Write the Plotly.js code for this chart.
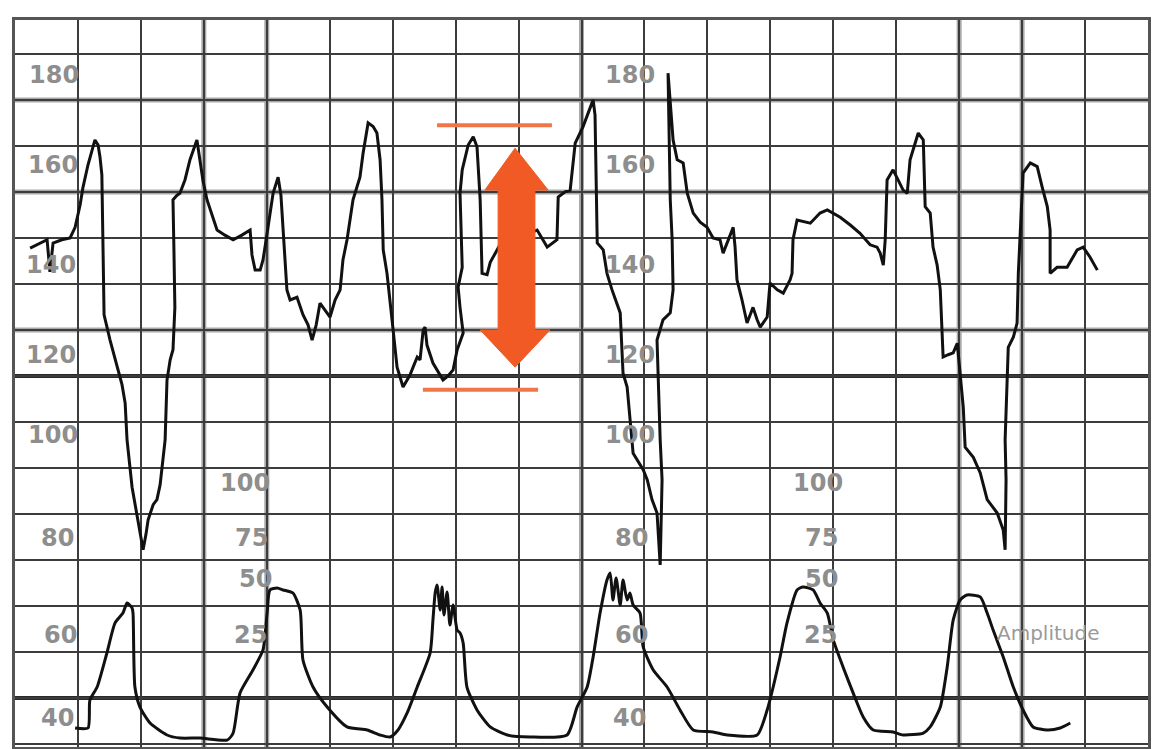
<!DOCTYPE html>
<html>
<head>
<meta charset="utf-8">
<script src="https://cdn.plot.ly/plotly-3.0.1.min.js"></script>
<style>html,body{margin:0;padding:0;background:#fff;}#chart{width:1163px;height:749px;}</style>
</head>
<body>
<div id="chart"></div>
<script>
// ---- Fetal heart rate trace (time in seconds, bpm) ----
const fhrTime = [4.8,7.9,10.2,11.1,12.1,14.9,17.5,19.1,20.7,21.6,23.2,24.5,25.4,26.4,27.0,27.6,28.0,28.3,30.2,32.4,34.0,35.0,35.6,37.2,38.8,39.7,40.7,41.6,42.3,43.9,45.1,46.1,47.0,47.7,48.3,49.3,50.2,50.8,50.5,50.2,51.5,52.4,54.0,55.6,57.8,58.8,59.7,61.0,62.6,64.2,66.7,69.3,72.1,74.7,75.3,76.3,77.9,78.8,79.8,81.0,82.0,83.6,84.5,85.2,85.8,86.4,87.4,89.6,91.5,93.1,94.4,95.7,96.9,98.5,100.1,101.7,103.3,104.2,105.5,107.4,109.6,110.6,112.2,113.8,115.0,116.0,116.6,117.0,118.2,119.8,121.4,123.3,125.5,126.5,127.8,128.7,129.7,130.3,130.9,132.8,134.4,136.0,137.6,139.2,140.5,142.4,141.4,140.8,142.1,141.4,142.1,144.0,145.6,146.8,147.8,148.4,150.0,151.0,154.1,165.9,169.1,172.2,172.6,174.8,176.4,177.3,178.0,180.5,182.7,183.7,184.3,185.0,186.9,188.1,189.7,192.3,193.2,194.5,196.4,199.6,200.9,202.4,204.0,205.0,205.6,205.0,204.0,205.9,208.2,209.1,208.8,208.2,207.5,208.5,209.1,210.4,212.3,213.6,215.5,217.7,219.9,221.8,224.0,225.0,228.2,228.8,229.4,231.0,232.6,233.6,234.5,235.8,236.8,239.0,239.9,242.2,244.1,246.3,246.9,247.2,248.5,252.7,255.8,258.1,262.2,265.4,268.5,271.7,273.9,274.9,275.9,276.5,277.1,279.0,280.6,282.2,283.5,284.4,287.0,288.6,289.2,290.8,291.7,293.0,294.0,294.9,296.5,298.1,299.4,300.3,301.3,301.9,304.5,306.7,308.9,312.1,314.0,314.6,314.9,314.6,315.3,315.6,317.2,318.4,318.8,319.4,320.3,322.6,324.8,326.4,328.0,328.9,328.9,331.1,334.3,337.5,339.4,341.6,343.9];
const fhrBpm = [147.8,148.9,149.6,142.6,148.9,149.6,150.0,152.3,157.2,161.0,165.9,169.1,171.3,170.2,167.6,163.7,147.4,133.3,127.8,121.9,118.1,114.1,106.1,95.8,89.8,85.9,82.2,85.5,88.7,92.0,93.1,96.3,101.8,106.1,119.1,123.5,125.7,134.9,147.4,158.3,159.3,159.7,162.6,167.0,171.3,167.0,162.6,158.3,155.0,151.7,150.6,149.6,150.6,151.7,146.3,143.0,143.0,145.2,149.6,155.0,159.7,163.2,159.3,151.7,145.2,138.7,136.5,137.1,133.3,131.1,127.8,131.1,135.8,134.4,132.8,136.5,138.7,145.2,149.6,158.3,163.2,168.4,175.0,174.2,172.8,167.0,158.3,147.4,142.3,132.2,121.9,117.6,120.2,121.9,124.1,123.5,130.0,130.6,126.7,122.8,120.8,119.1,120.0,121.3,125.7,129.3,134.9,139.3,143.6,159.7,164.8,170.2,172.0,169.8,158.3,142.3,142.0,144.7,148.5,151.7,148.0,149.6,158.9,160.0,160.4,165.5,170.6,174.2,178.5,180.0,176.7,148.9,147.4,142.3,138.7,133.7,120.6,117.6,103.2,99.6,97.4,93.1,90.2,78.9,97.4,106.1,127.8,132.2,133.7,138.7,149.6,158.3,185.8,177.8,171.3,167.0,166.3,159.7,155.4,153.4,152.3,150.0,149.6,146.7,152.3,148.0,140.9,136.5,131.5,133.3,134.9,132.2,130.6,132.8,140.2,138.7,138.0,140.9,142.3,149.6,153.9,153.2,155.4,156.1,154.5,152.8,151.0,148.5,148.0,146.7,144.1,149.6,162.6,164.8,162.6,160.4,159.7,167.0,172.8,171.3,156.8,155.4,148.0,144.1,138.7,124.1,124.6,125.0,127.1,120.6,113.2,104.5,102.3,98.9,93.1,90.2,86.5,82.2,97.4,106.1,120.6,126.2,128.4,131.5,142.3,151.7,164.1,166.3,165.5,161.0,156.8,151.7,142.3,143.6,143.6,147.4,148.0,145.8,143.0];

// ---- Uterine contraction trace (time in seconds, mmHg) ----
const ucTime = [19.1,23.2,23.8,26.1,29.2,31.8,34.3,35.6,37.2,37.5,38.1,39.7,42.9,48.3,52.4,58.8,67.4,69.3,71.5,75.6,78.8,80.1,81.0,83.3,85.2,88.3,90.6,91.5,94.7,99.2,105.5,111.9,116.0,119.2,121.7,124.6,127.8,131.9,132.8,133.5,134.1,135.1,135.7,136.3,137.3,138.2,139.2,140.5,141.4,142.4,143.6,146.8,151.0,156.4,163.7,175.4,178.6,181.8,183.7,185.9,188.1,189.1,190.0,191.0,192.3,193.2,194.5,195.4,196.4,198.6,199.6,202.8,207.2,211.3,215.5,221.8,226.3,235.8,239.0,240.9,243.1,245.3,248.5,250.4,253.6,255.8,258.1,260.0,263.1,266.3,269.5,272.7,279.0,282.2,288.6,290.8,294.0,296.2,298.1,300.3,302.5,306.7,308.9,310.8,314.0,317.2,320.3,323.5,328.0,332.1,335.3];
const ucMmHg = [8.7,8.7,21.5,27.5,43.1,56.9,61.4,66.0,63.7,61.4,27.5,18.3,11.0,5.5,4.1,4.1,3.2,6.4,24.8,35.3,44.5,61.4,72.0,72.9,72.0,70.6,62.8,39.9,27.5,18.3,9.2,7.8,5.5,4.6,7.8,15.6,27.5,43.1,58.2,70.6,74.3,62.8,73.4,60.5,71.1,55.9,65.1,53.6,52.3,47.7,27.5,17.0,9.2,5.5,4.6,5.5,18.3,27.5,41.3,61.4,76.6,79.8,67.4,77.5,65.1,76.6,67.4,70.6,65.1,61.4,45.9,35.3,27.5,17.0,7.8,6.9,5.5,5.5,17.0,27.5,41.3,56.9,72.0,73.4,72.0,66.0,61.4,49.1,36.7,24.8,13.8,7.8,6.9,5.5,6.4,9.2,18.3,36.7,58.2,67.4,69.7,68.8,61.4,53.6,41.3,27.5,17.0,9.2,7.8,8.7,11.0];

// ---- Printed scale labels ----
const fhrScaleText = ['180','160','140','120','100','80','60','40'];
const ucScaleText = ['100','75','50','25'];
const amplitudeText = 'Amplitude';

// label placement (layout only)
const fhrLabelY = [185.4,165.9,144.1,124.6,107.2,84.8,63.7,45.6];
const fhrLabelX1 = [12.4,12.1,11.5,11.5,12.1,13.5,14.3,13.5];
const fhrLabelX2 = [195.4,195.4,195.4,195.4,195.4,196.0,196.0,195.4];
const ucLabelY = [96.7,84.8,75.9,63.7];
const ucLabelX1 = [73.1,75.3,76.3,74.7];
const ucLabelX2 = [255.1,256.4,256.4,255.8];

const labelFont = {family:'DejaVu Sans, Arial, sans-serif', size:24, color:'#8e8e8e', weight:700};
const annotations = [];
fhrScaleText.forEach((t,i)=>{
  annotations.push({x:fhrLabelX1[i], y:fhrLabelY[i], xref:'x', yref:'y', text:t, showarrow:false, font:labelFont, xanchor:'center', yanchor:'middle'});
  annotations.push({x:fhrLabelX2[i], y:fhrLabelY[i], xref:'x', yref:'y', text:t, showarrow:false, font:labelFont, xanchor:'center', yanchor:'middle'});
});
ucScaleText.forEach((t,i)=>{
  annotations.push({x:ucLabelX1[i], y:ucLabelY[i], xref:'x', yref:'y', text:t, showarrow:false, font:labelFont, xanchor:'center', yanchor:'middle'});
  annotations.push({x:ucLabelX2[i], y:ucLabelY[i], xref:'x', yref:'y', text:t, showarrow:false, font:labelFont, xanchor:'center', yanchor:'middle'});
});
annotations.push({x:328.5, y:64.1, xref:'x', yref:'y', text:amplitudeText, showarrow:false,
  font:{family:'DejaVu Sans, Arial, sans-serif', size:20, color:'#9a9a9a'}, xanchor:'center', yanchor:'middle'});

// emphasised grid lines
const thickBlackBpm = [120, 50];
const thickGreyBpm = [180, 160, 130];
const thickGreyTime = [60, 80, 180, 300, 320];

const shapes = [];
thickGreyBpm.forEach(v=>shapes.push({type:'line', xref:'paper', yref:'y', x0:0, x1:1, y0:v, y1:v, layer:'between', line:{color:'#a8a8a8', width:5}}));
thickGreyTime.forEach(v=>shapes.push({type:'line', xref:'x', yref:'paper', x0:v, x1:v, y0:0, y1:1, layer:'between', line:{color:'#a8a8a8', width:5}}));
thickBlackBpm.forEach(v=>shapes.push({type:'line', xref:'paper', yref:'y', x0:0, x1:1, y0:v, y1:v, layer:'between', line:{color:'#2a2a2a', width:4}}));

// variability marker: two reference bars + double arrow
const orange = '#f15a24';
const markTop = {x0:134.1, x1:170.6, y:174.5};
const markBottom = {x0:129.6, x1:166.2, y:117.0};
shapes.push({type:'line', xref:'x', yref:'y', x0:markTop.x0, x1:markTop.x1, y0:markTop.y, y1:markTop.y, layer:'above', line:{color:'#f0764a', width:4}});
shapes.push({type:'line', xref:'x', yref:'y', x0:markBottom.x0, x1:markBottom.x1, y0:markBottom.y, y1:markBottom.y, layer:'above', line:{color:'#f0764a', width:4}});
const ar = {cx:158.9, top:169.5, headTop:160.4, headBot:130.0, bot:121.9, shaftL:153.5, shaftR:165.2, headL1:149.3, headR1:169.4, headL2:147.8, headR2:170.0};
const arrowPath = `M ${ar.cx},${ar.top} L ${ar.headR1},${ar.headTop} L ${ar.shaftR},${ar.headTop} L ${ar.shaftR},${ar.headBot} L ${ar.headR2},${ar.headBot} L ${ar.cx},${ar.bot} L ${ar.headL2},${ar.headBot} L ${ar.shaftL},${ar.headBot} L ${ar.shaftL},${ar.headTop} L ${ar.headL1},${ar.headTop} Z`;
shapes.push({type:'path', xref:'x', yref:'y', path:arrowPath, fillcolor:orange, line:{color:orange, width:1}, layer:'above'});

const traces = [
  {x:fhrTime, y:fhrBpm, type:'scatter', mode:'lines', line:{color:'#111', width:3}, xaxis:'x', yaxis:'y', hoverinfo:'skip'},
  {x:ucTime, y:ucMmHg, type:'scatter', mode:'lines', line:{color:'#111', width:3, shape:'spline', smoothing:0.6}, xaxis:'x', yaxis:'y2', hoverinfo:'skip'}
];

const layout = {
  width:1163, height:749,
  margin:{l:15, r:15, t:20, b:2},
  paper_bgcolor:'#ffffff', plot_bgcolor:'#ffffff',
  showlegend:false,
  xaxis:{range:[0,360], dtick:20, tick0:0, showgrid:true, gridcolor:'#3c3c3c', gridwidth:2, zeroline:false,
         showticklabels:false, ticks:'', showline:true, mirror:true, linecolor:'#555', linewidth:3},
  yaxis:{range:[39.33,197.37], dtick:10, tick0:40, showgrid:true, gridcolor:'#3c3c3c', gridwidth:2, zeroline:false,
         showticklabels:false, ticks:'', showline:true, mirror:true, linecolor:'#555', linewidth:3},
  yaxis2:{range:[0,333.3], overlaying:'y', showgrid:false, zeroline:false, showticklabels:false, ticks:'', showline:false},
  shapes:shapes,
  annotations:annotations
};

Plotly.newPlot('chart', traces, layout, {staticPlot:true, displayModeBar:false});
</script>
</body>
</html>
